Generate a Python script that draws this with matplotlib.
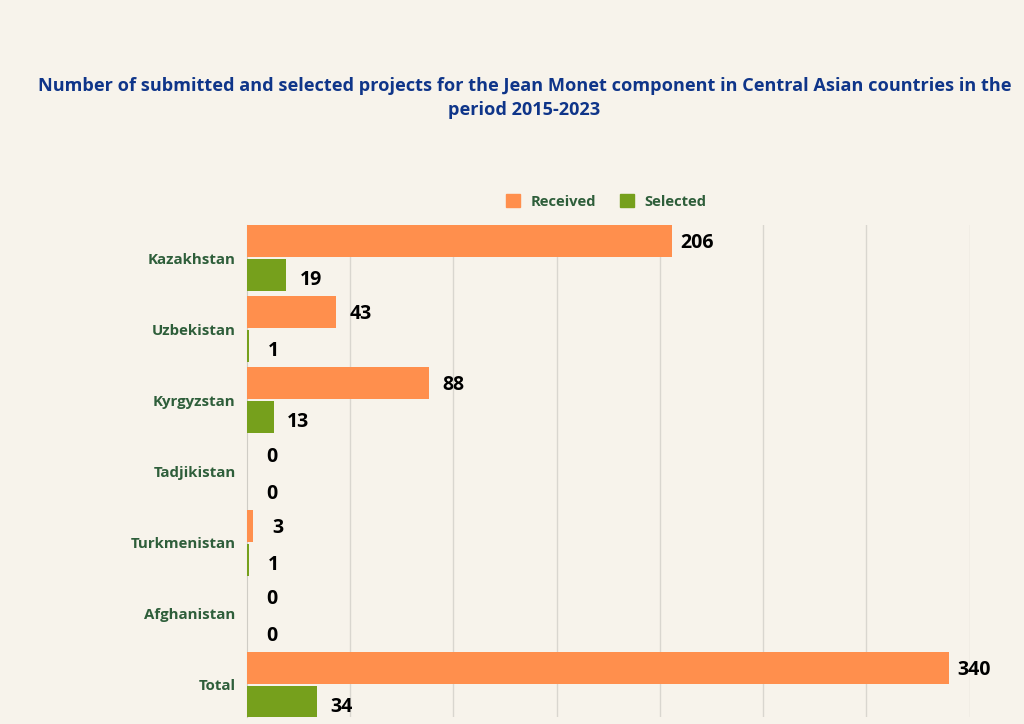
import numpy as np
import matplotlib.pyplot as plt
from matplotlib.patches import Patch

countries = ['Kazakhstan', 'Uzbekistan', 'Kyrgyzstan', 'Tadjikistan',
             'Turkmenistan', 'Afghanistan', 'Total']
received = [206, 43, 88, 0, 3, 0, 340]
selected = [19, 1, 13, 0, 1, 0, 34]

bg = '#f7f3eb'
orange = '#ff8f4d'
green = '#76a01c'
label_green = '#2e5e3a'
title_blue = '#0f3589'

plt.rcParams['font.family'] = ['Open Sans', 'DejaVu Sans']

fig = plt.figure(figsize=(10.24, 7.24), dpi=100, facecolor=bg)
ax = fig.add_axes([0.241, 0.0097, 0.706, 0.6795])
ax.set_facecolor(bg)

y = np.arange(len(countries))
h = 0.45
off = 0.24
ax.barh(y - off, received, height=h, color=orange, zorder=3)
ax.barh(y + off, selected, height=h, color=green, zorder=3)

# labels centred a fixed distance past the bar end
for yi, r, s in zip(y, received, selected):
    ax.text(r + 12, yi - off + 0.03, str(r), va='center', ha='center',
            fontsize=14, fontweight='bold', color='black')
    ax.text(s + 12, yi + off + 0.07, str(s), va='center', ha='center',
            fontsize=14, fontweight='bold', color='black')

ax.set_xlim(0, 350)
ax.set_ylim(6.45, -0.464)
ax.set_xticks(np.arange(50, 351, 50))
ax.set_xticklabels([])
ax.tick_params(axis='x', length=0)
ax.grid(axis='x', color='#d9d6cf', linewidth=1, zorder=0)
ax.set_yticks(y)
ax.set_yticklabels(countries, fontsize=10.8, fontweight='bold', color=label_green)
ax.tick_params(axis='y', length=0, pad=8)
for side in ['top', 'right', 'bottom']:
    ax.spines[side].set_visible(False)
ax.spines['left'].set_color('#cfccc5')

handles = [Patch(color=orange, label='Received'), Patch(color=green, label='Selected')]
leg = fig.legend(handles=handles, loc='center', bbox_to_anchor=(0.592, 0.722), ncol=2,
                 frameon=False, handlelength=1.0, handleheight=1.0, columnspacing=1.6,
                 handletextpad=0.7, prop={'weight': 'bold', 'size': 10.6})
for t in leg.get_texts():
    t.set_color(label_green)

fig.text(0.512, 0.865, 'Number of submitted and selected projects for the Jean Monet component in Central Asian countries in the\nperiod 2015-2023',
         ha='center', va='center', fontsize=13.1, fontweight='bold', color=title_blue,
         linespacing=1.45)

fig.savefig('out.png', dpi=100, facecolor=bg)
